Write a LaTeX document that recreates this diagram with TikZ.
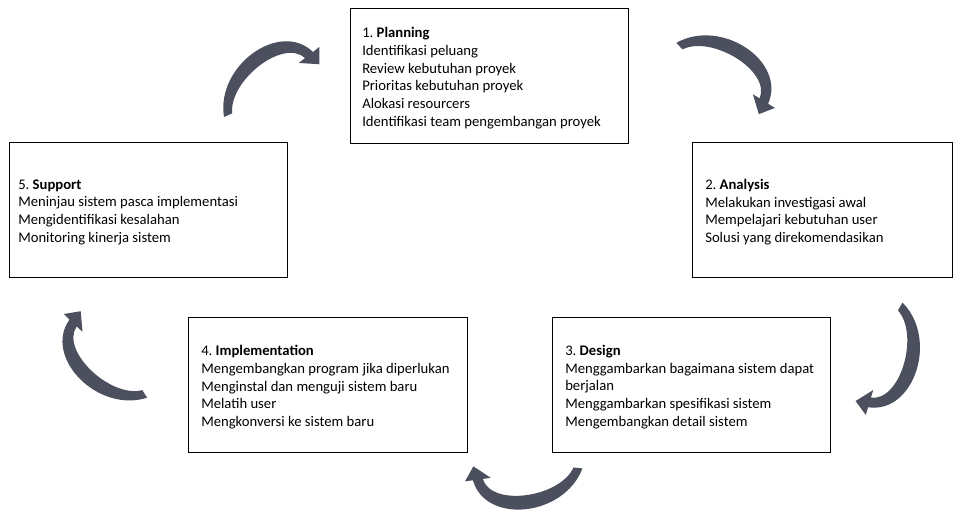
\documentclass[tikz,border=0pt]{standalone}
\usepackage{fontspec}
\setmainfont{Carlito}
\usetikzlibrary{positioning}
\definecolor{arrowgray}{RGB}{75,79,94}
\frenchspacing

\tikzset{
  stage/.style={draw, rectangle, line width=0.9pt, inner sep=0pt, anchor=north west,
    minimum height=101.25pt},
  stagetext/.style={align=left, inner sep=0pt, yshift=-1.5pt,
    font=\fontsize{11}{13.3}\selectfont},
  % one curved arrow, chord centred on the origin
  cyclearrow/.pic={
    \fill[arrowgray]
      (-49.75,28.25) .. controls (-58,-23) and (6,-69) .. (39.2,-36.8)
      -- (45.5,-41.7) -- (45.75,-24.5) -- (25,-25.8) -- (31.3,-30.7)
      .. controls (9.5,-51) and (-45,-8) .. (-41.5,24.6) -- cycle;
  }
}

\begin{document}
\begin{tikzpicture}[x=0.75pt, y=-0.75pt]
    \useasboundingbox (0,0) rectangle (960,518);

    % boxes
    \node[stage, minimum width=208.5pt] (plan) at (350,8) {};
    \node[stage, minimum width=195pt]   (anls) at (692,142) {};
    \node[stage, minimum width=208.5pt] (dsgn) at (552,317) {};
    \node[stage, minimum width=209.25pt] (impl) at (188,317) {};
    \node[stage, minimum width=208.5pt] (supp) at (9,142) {};

    \node[stagetext, right=9pt of plan.west] (plantext) {1. \textbf{Planning}\\
      Identifikasi peluang\\
      Review kebutuhan proyek\\
      Prioritas kebutuhan proyek\\
      Alokasi resourcers\\
      Identifikasi team pengembangan proyek};
    \node[stagetext, right=9.75pt of anls.west] (anlstext) {2. \textbf{Analysis}\\
      Melakukan investigasi awal\\
      Mempelajari kebutuhan user\\
      Solusi yang direkomendasikan};
    \node[stagetext, right=9.75pt of dsgn.west] (dsgntext) {3. \textbf{Design}\\
      Menggambarkan bagaimana sistem dapat\\
      berjalan\\
      Menggambarkan spesifikasi sistem\\
      Mengembangkan detail sistem};
    \node[stagetext, right=9.75pt of impl.west] (impltext) {4. \textbf{Implementation}\\
      Mengembangkan program jika diperlukan\\
      Menginstal dan menguji sistem baru\\
      Melatih user\\
      Mengkonversi ke sistem baru};
    \node[stagetext, right=6.75pt of supp.west] (supptext) {5. \textbf{Support}\\
      Meninjau sistem pasca implementasi\\
      Mengidentifikasi kesalahan\\
      Monitoring kinerja sistem};

    % arrows of the cycle
    \pic at (273.75,88.75) {cyclearrow};
    \pic[rotate=-69.7] at (720,79.75) {cyclearrow};
    \pic[rotate=-144.4] at (878.5,354.5) {cyclearrow};
    \pic[rotate=-210] at (525.25,468) {cyclearrow};
    \pic[rotate=98.6] at (111.75,352.75) {cyclearrow};
\end{tikzpicture}
\end{document}
